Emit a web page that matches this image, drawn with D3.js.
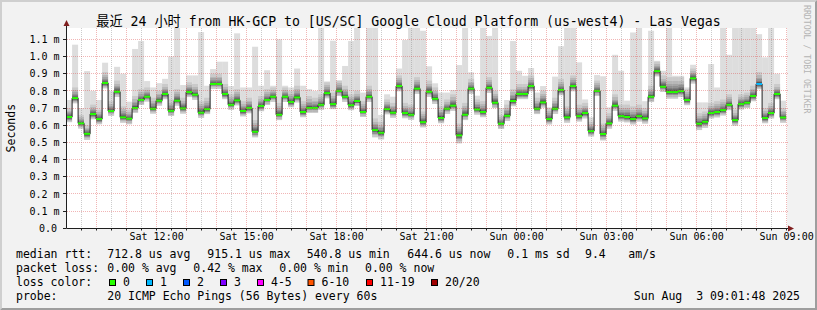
<!DOCTYPE html>
<html>
<head>
<meta charset="utf-8">
<script src="https://cdn.jsdelivr.net/npm/d3@7"></script>
<style>
  html, body { margin: 0; padding: 0; background: #f2f2f2; }
  svg { display: block; }
  text { white-space: pre; }
</style>
</head>
<body>
<svg id="chart" width="817" height="310"></svg>
<script>
// 12 minute steps, Sat 2 Aug 2025 09:00 -> Sun 3 Aug 2025 09:00 (values in ms)
const stepStart = new Date(2025, 7, 2, 9, 0, 0);
const stepMinutes = 12;
const graphStart = new Date(2025, 7, 2, 9, 1, 48);
const graphEnd = new Date(2025, 7, 3, 9, 1, 48);

const median = [
  0.648, 0.758, 0.611, 0.550, 0.665, 0.636, 0.846, 0.683, 0.795, 0.646,
  0.638, 0.700, 0.747, 0.766, 0.696, 0.743, 0.782, 0.684, 0.743, 0.698,
  0.793, 0.778, 0.673, 0.694, 0.840, 0.840, 0.782, 0.719, 0.745, 0.683,
  0.700, 0.562, 0.712, 0.747, 0.766, 0.661, 0.766, 0.735, 0.762, 0.677,
  0.700, 0.700, 0.719, 0.787, 0.723, 0.800, 0.766, 0.717, 0.741, 0.677,
  0.766, 0.572, 0.556, 0.694, 0.673, 0.828, 0.671, 0.661, 0.813, 0.618,
  0.795, 0.754, 0.642, 0.696, 0.714, 0.541, 0.661, 0.813, 0.692, 0.677,
  0.818, 0.731, 0.609, 0.655, 0.741, 0.782, 0.782, 0.828, 0.696, 0.733,
  0.636, 0.696, 0.805, 0.646, 0.828, 0.653, 0.671, 0.566, 0.800, 0.549,
  0.611, 0.714, 0.653, 0.648, 0.636, 0.653, 0.640, 0.766, 0.915, 0.824,
  0.793, 0.793, 0.799, 0.747, 0.873, 0.609, 0.620, 0.671, 0.677, 0.688,
  0.719, 0.630, 0.723, 0.731, 0.770, 0.840, 0.642, 0.671, 0.782, 0.645
];
const minRtt = [
  0.618, 0.728, 0.581, 0.515, 0.635, 0.606, 0.815, 0.655, 0.765, 0.615,
  0.606, 0.672, 0.718, 0.738, 0.668, 0.714, 0.752, 0.654, 0.714, 0.668,
  0.764, 0.748, 0.643, 0.665, 0.812, 0.812, 0.752, 0.690, 0.716, 0.652,
  0.670, 0.530, 0.682, 0.718, 0.736, 0.630, 0.736, 0.705, 0.733, 0.647,
  0.672, 0.672, 0.690, 0.757, 0.694, 0.770, 0.736, 0.688, 0.712, 0.648,
  0.736, 0.530, 0.518, 0.664, 0.644, 0.798, 0.641, 0.632, 0.783, 0.588,
  0.765, 0.724, 0.612, 0.666, 0.684, 0.495, 0.630, 0.783, 0.662, 0.647,
  0.788, 0.700, 0.578, 0.625, 0.711, 0.752, 0.752, 0.798, 0.665, 0.703,
  0.605, 0.666, 0.775, 0.615, 0.798, 0.622, 0.640, 0.535, 0.770, 0.512,
  0.580, 0.684, 0.622, 0.617, 0.605, 0.622, 0.610, 0.735, 0.885, 0.794,
  0.755, 0.755, 0.765, 0.717, 0.843, 0.572, 0.585, 0.640, 0.646, 0.657,
  0.688, 0.598, 0.692, 0.700, 0.740, 0.810, 0.612, 0.640, 0.752, 0.615
];
const upperRtt = [
  0.70, 0.82, 0.66, 0.60, 0.72, 0.69, 0.91, 0.74, 0.86, 0.71,
  0.69, 0.77, 0.81, 0.82, 0.76, 0.80, 0.84, 0.75, 0.81, 0.76,
  0.85, 0.84, 0.74, 0.76, 0.90, 0.90, 0.84, 0.78, 0.81, 0.74,
  0.76, 0.63, 0.77, 0.81, 0.82, 0.73, 0.82, 0.80, 0.83, 0.74,
  0.77, 0.76, 0.78, 0.85, 0.79, 0.86, 0.83, 0.78, 0.80, 0.74,
  0.83, 0.64, 0.62, 0.75, 0.73, 0.89, 0.73, 0.72, 0.88, 0.68,
  0.86, 0.82, 0.71, 0.75, 0.78, 0.61, 0.73, 0.87, 0.75, 0.74,
  0.88, 0.80, 0.66, 0.72, 0.81, 0.84, 0.84, 0.89, 0.76, 0.80,
  0.70, 0.76, 0.87, 0.71, 0.89, 0.72, 0.73, 0.62, 0.86, 0.61,
  0.67, 0.78, 0.72, 0.72, 0.71, 0.72, 0.70, 0.83, 0.97, 0.89,
  0.88, 0.88, 0.88, 0.81, 0.93, 0.67, 0.68, 0.73, 0.74, 0.75,
  0.78, 0.69, 0.78, 0.79, 0.83, 0.91, 0.70, 0.73, 0.84, 0.70
];
const maxRtt = [
  0.747, 1.069, 0.700, 0.915, 0.800, 0.747, 0.964, 0.800, 0.940, 0.900,
  0.737, 1.044, 1.090, 0.857, 0.820, 0.845, 0.870, 1.000, 1.250, 0.834,
  0.890, 0.890, 1.142, 0.830, 0.927, 0.970, 0.970, 0.828, 1.135, 0.820,
  0.820, 1.057, 0.830, 0.920, 0.830, 1.100, 0.830, 0.820, 0.930, 0.830,
  0.810, 0.800, 1.250, 0.855, 1.092, 0.860, 0.945, 1.090, 1.250, 0.790,
  1.250, 1.250, 0.660, 0.780, 0.766, 0.930, 1.096, 1.250, 1.250, 1.150,
  0.943, 0.844, 0.790, 0.790, 0.805, 0.950, 1.250, 0.908, 0.772, 1.250,
  1.120, 1.250, 0.700, 0.747, 1.090, 0.917, 0.888, 0.933, 0.790, 0.828,
  0.704, 0.883, 1.060, 1.250, 1.250, 0.966, 0.750, 0.646, 0.892, 0.885,
  0.704, 1.010, 0.917, 0.743, 1.140, 1.250, 0.740, 1.150, 0.975, 0.917,
  1.250, 0.888, 0.888, 0.820, 0.952, 0.733, 0.733, 0.956, 0.820, 1.250,
  1.010, 1.250, 1.250, 1.250, 1.250, 1.130, 0.995, 1.250, 0.900, 0.743
];
// packet loss in % per step (only one step lost a ping)
const lossPct = new Array(120).fill(0);
lossPct[115] = 0.42;

const yTicks = [0.0, 0.1, 0.2, 0.3, 0.4, 0.5, 0.6, 0.7, 0.8, 0.9, 1.0, 1.1];
const xLabelTicks = ["2025-08-02 12:00", "2025-08-02 15:00", "2025-08-02 18:00", "2025-08-02 21:00",
                     "2025-08-03 00:00", "2025-08-03 03:00", "2025-08-03 06:00", "2025-08-03 09:00"];

const rttStats = ["712.8 us avg", "915.1 us max", "540.8 us min", "644.6 us now", "0.1 ms sd", "9.4", "am/s"];
const lossStats = ["0.00 % avg", "0.42 % max", "0.00 % min", "0.00 % now"];
const lossClasses = ["0", "1", "2", "3", "4-5", "6-10", "11-19", "20/20"];
const lossLimits = [0, 1, 2, 3, 5, 10, 19, 20];   // lost pings (of 20) upper bound per class
const lossColors = ["#26ff00", "#00b8ff", "#0059ff", "#7e00ff", "#ff00ff", "#ff5500", "#ff0000", "#a00000"];

const W = 817, H = 310;
const pL = 67, pR = 787, pT = 28, pB = 228.3;
const mono = "'DejaVu Sans Mono', 'Noto Sans CJK SC', monospace";

const svg = d3.select("#chart");
const x = d3.scaleTime().domain([graphStart, graphEnd]).range([pL, pR]);
const y = d3.scaleLinear().domain([0, 1.166]).range([pB, pT]);
const crisp = v => Math.floor(v) + 0.5;

// background + shade frame
svg.append("rect").attr("width", W).attr("height", H).attr("fill", "#f2f2f2");
svg.append("path").attr("fill", "#cfcfcf")
    .attr("d", `M0,${H}L0,0L${W},0L${W - 2},2L2,2L2,${H - 2}Z`);
svg.append("path").attr("fill", "#9e9e9e")
    .attr("d", `M0,${H}L${W},${H}L${W},0L${W - 2},2L${W - 2},${H - 2}L2,${H - 2}Z`);
svg.append("rect").attr("x", pL).attr("y", pT)
    .attr("width", pR - pL).attr("height", pB - pT).attr("fill", "#fff");

const defs = svg.append("defs");
defs.append("clipPath").attr("id", "plot").append("rect")
    .attr("x", pL).attr("y", pT).attr("width", pR - pL).attr("height", pB - pT);

// smoke shades: lighter bands are wider, darker ones hug the median
function steppedGradient(id, shades, stops) {
    const g = defs.append("linearGradient").attr("id", id)
        .attr("x1", 0).attr("y1", 0).attr("x2", 0).attr("y2", 1);
    shades.forEach((c, i) => {
        g.append("stop").attr("offset", stops[i]).attr("stop-color", c);
        g.append("stop").attr("offset", stops[i + 1]).attr("stop-color", c);
    });
}
steppedGradient("smokeUp",
    ["#cacaca", "#b7b7b7", "#a4a4a4", "#919191", "#7e7e7e", "#6b6b6b", "#585858", "#454545", "#323232"],
    [0, 0.28, 0.46, 0.6, 0.71, 0.8, 0.87, 0.92, 0.96, 1]);
steppedGradient("smokeDown",
    ["#454545", "#6b6b6b", "#919191", "#b7b7b7", "#cacaca"],
    [0, 0.12, 0.3, 0.5, 0.72, 1]);

const steps = median.map((m, i) => ({
    t0: d3.timeMinute.offset(stepStart, i * stepMinutes),
    t1: d3.timeMinute.offset(stepStart, (i + 1) * stepMinutes),
    med: m, lo: minRtt[i], up: Math.min(upperRtt[i], maxRtt[i]), hi: maxRtt[i],
    loss: lossPct[i] * 20 / 100
}));

const g = svg.append("g").attr("clip-path", "url(#plot)");

// smoke
const smoke = g.append("g").selectAll("g").data(steps).join("g");
smoke.append("rect")
    .attr("x", d => x(d.t0)).attr("width", d => x(d.t1) - x(d.t0))
    .attr("y", d => y(d.hi)).attr("height", d => y(d.lo) - y(d.hi))
    .attr("fill", "#dddddd");
smoke.append("rect")
    .attr("x", d => x(d.t0)).attr("width", d => x(d.t1) - x(d.t0))
    .attr("y", d => y(d.up)).attr("height", d => y(d.med) - y(d.up))
    .attr("fill", "url(#smokeUp)");
smoke.append("rect")
    .attr("x", d => x(d.t0)).attr("width", d => x(d.t1) - x(d.t0))
    .attr("y", d => y(d.med)).attr("height", d => y(d.lo) - y(d.med))
    .attr("fill", "url(#smokeDown)");

// grid
const gridG = svg.append("g");
const halfHours = d3.timeMinute.every(30).range(graphStart, graphEnd);
gridG.selectAll("line.minor").data(halfHours.filter(t => t.getMinutes() !== 0)).join("line")
    .attr("x1", d => crisp(x(d))).attr("x2", d => crisp(x(d)))
    .attr("y1", pT).attr("y2", pB)
    .attr("stroke", "rgba(143,143,143,0.45)").attr("stroke-dasharray", "1,1");
gridG.selectAll("line.major").data(halfHours.filter(t => t.getMinutes() === 0)).join("line")
    .attr("x1", d => crisp(x(d))).attr("x2", d => crisp(x(d)))
    .attr("y1", pT).attr("y2", pB)
    .attr("stroke", "rgba(222,79,79,0.42)").attr("stroke-dasharray", "1,1");
gridG.selectAll("line.h").data(yTicks.filter(v => v > 0)).join("line")
    .attr("x1", pL).attr("x2", pR + 2)
    .attr("y1", d => crisp(y(d))).attr("y2", d => crisp(y(d)))
    .attr("stroke", "rgba(222,79,79,0.42)").attr("stroke-dasharray", "1,1");

// median line + loss colour band
const linePts = steps.map(d => [x(d.t0), y(d.med)]);
linePts.push([x(steps[steps.length - 1].t1), y(steps[steps.length - 1].med)]);
g.append("path")
    .attr("d", d3.line().curve(d3.curveStepAfter)(linePts))
    .attr("fill", "none").attr("stroke", "#202020").attr("stroke-width", 1);

const lossClass = l => lossLimits.findIndex(v => l <= v);
g.append("g").selectAll("rect").data(steps).join("rect")
    .attr("x", d => x(d.t0)).attr("width", d => x(d.t1) - x(d.t0))
    .attr("y", d => y(d.med) - 1).attr("height", 2)
    .attr("fill", d => lossColors[lossClass(d.loss)]);

// axes
const axisCol = "#1f1f1f", arrowCol = "#801f1f";
const ax = svg.append("g");
const ax0 = crisp(pL - 1), ay0 = crisp(pB);
ax.append("line").attr("x1", ax0).attr("x2", ax0)
    .attr("y1", ay0).attr("y2", 24).attr("stroke", axisCol);
ax.append("line").attr("x1", ax0).attr("x2", 789)
    .attr("y1", ay0).attr("y2", ay0).attr("stroke", axisCol);
ax.append("path").attr("fill", arrowCol)
    .attr("d", `M${ax0 - 3},26L${ax0 + 3},26L${ax0},20Z`);
ax.append("path").attr("fill", arrowCol)
    .attr("d", `M788,${ay0 - 3}L788,${ay0 + 3}L794,${ay0}Z`);
ax.selectAll("line.yt").data(yTicks).join("line")
    .attr("x1", pL - 4).attr("x2", pL - 1)
    .attr("y1", d => crisp(y(d))).attr("y2", d => crisp(y(d))).attr("stroke", axisCol);
ax.selectAll("line.xt").data(halfHours).join("line")
    .attr("x1", d => crisp(x(d))).attr("x2", d => crisp(x(d)))
    .attr("y1", ay0).attr("y2", ay0 + 2).attr("stroke", axisCol);

const parseT = d3.timeParse("%Y-%m-%d %H:%M");
const xAxis = svg.append("g").attr("transform", `translate(0,${pB})`)
    .call(d3.axisBottom(x).tickValues(xLabelTicks.map(parseT))
        .tickFormat(d3.timeFormat("%a %H:%M")).tickSize(0).tickPadding(5));
const yAxis = svg.append("g").attr("transform", `translate(${pL - 0.5},0)`)
    .call(d3.axisLeft(y).tickValues(yTicks)
        .tickFormat(d => d === 0 ? "0.0" : d3.format(".1f")(d) + " m").tickSize(0).tickPadding(7));
[xAxis, yAxis].forEach(a => {
    a.select(".domain").remove();
    a.selectAll("text").attr("font-family", mono).attr("font-size", 10).attr("fill", "#000");
});
yAxis.selectAll(".tick").filter(d => d === 0).select("text").attr("dx", -2.5);

// title, unit, watermark
svg.append("text").attr("x", W / 2).attr("y", 26).attr("text-anchor", "middle")
    .attr("font-family", mono).attr("font-size", 13.2)
    .text("最近 24 小时 from HK-GCP to [US/SC] Google Cloud Platform (us-west4) - Las Vegas");
svg.append("text").attr("transform", `translate(15,${(pT + pB) / 2}) rotate(-90)`)
    .attr("text-anchor", "middle").attr("font-family", mono).attr("font-size", 11.5)
    .text("Seconds");
svg.append("text").attr("transform", "translate(804,5) rotate(90)")
    .attr("font-family", mono).attr("font-size", 8.2).attr("fill", "#b4b4b4")
    .text("RRDTOOL / TOBI OETIKER");

// legend
const leg = svg.append("g").attr("font-family", mono).attr("font-size", 11.5).attr("fill", "#000");
const rows = [258, 272, 286, 300];
leg.append("text").attr("x", 16).attr("y", rows[0]).text("median rtt:");
[107.3, 207.3, 306.7, 407.3, 507.3, 585, 628.3].forEach((px, i) =>
    leg.append("text").attr("x", px).attr("y", rows[0]).text(rttStats[i]));
leg.append("text").attr("x", 16).attr("y", rows[1]).text("packet loss:");
[107.3, 193.3, 279.3, 365].forEach((px, i) =>
    leg.append("text").attr("x", px).attr("y", rows[1]).text(lossStats[i]));
leg.append("text").attr("x", 16).attr("y", rows[2]).text("loss color:");
const boxX = [109, 146, 183, 220, 257, 307.5, 366, 431];
lossClasses.forEach((c, i) => {
    leg.append("rect").attr("x", boxX[i] + 0.5).attr("y", 279.5).attr("width", 6).attr("height", 6)
        .attr("fill", lossColors[i]).attr("stroke", "#000");
    leg.append("text").attr("x", boxX[i] + 14).attr("y", rows[2]).text(c);
});
leg.append("text").attr("x", 16).attr("y", rows[3]).text("probe:");
leg.append("text").attr("x", 107.3).attr("y", rows[3]).text("20 ICMP Echo Pings (56 Bytes) every 60s");
leg.append("text").attr("x", 800).attr("y", rows[3]).attr("text-anchor", "end")
    .text("Sun Aug  3 09:01:48 2025");
</script>
</body>
</html>
